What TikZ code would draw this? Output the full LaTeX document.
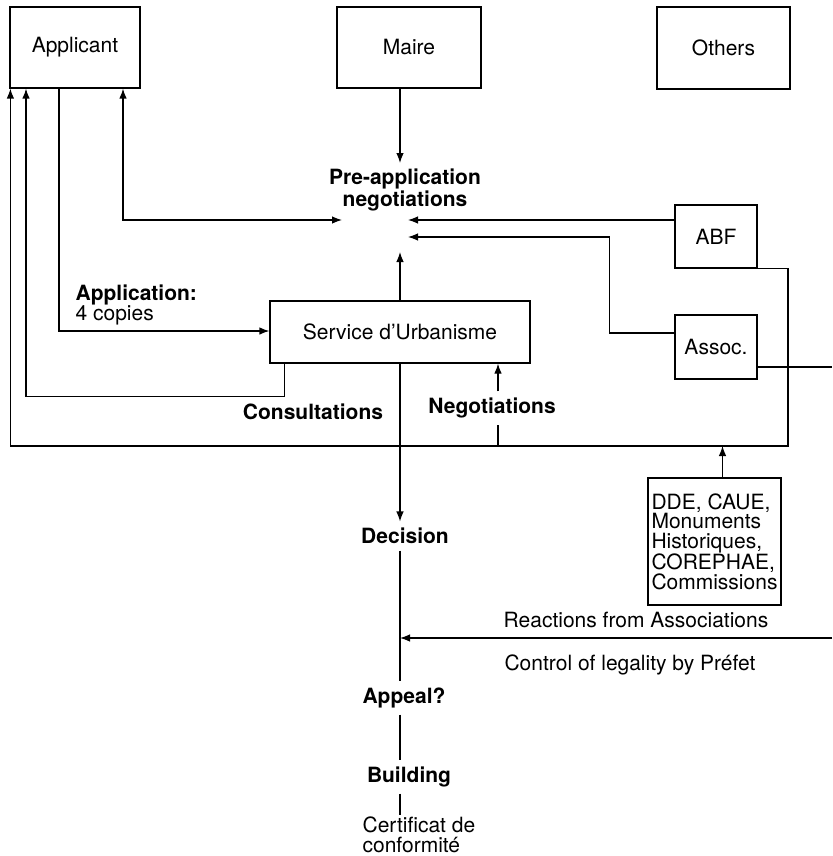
\documentclass[tikz,border=0pt]{standalone}
\usepackage{fontspec}
\setmainfont{TeX Gyre Heros}
\usetikzlibrary{arrows.meta}

\begin{document}
\begin{tikzpicture}[x=1pt, y=-1pt, line width=1.2pt,
    >={Latex[length=10pt,width=7.5pt]},
    every node/.style={font=\fontsize{21}{19.5}\selectfont},
    box/.style={draw, rectangle, inner sep=2pt},
    stage/.style={font=\fontsize{21}{19.5}\selectfont\bfseries, inner sep=6pt}]
    \useasboundingbox (0,0) rectangle (832,856);

    % actors
    \node[box, minimum width=130pt, minimum height=81pt] (applicant) at (75,47.5) {Applicant};
    \node[box, minimum width=144pt, minimum height=81pt] (maire) at (409,47.5) {Maire};
    \node[box, minimum width=133pt, minimum height=82pt] (others) at (723.5,48) {Others};
    \node[box, minimum width=82pt, minimum height=63pt] (abf) at (716,236.5) {ABF};
    \node[box, minimum width=82pt, minimum height=64pt] (assoc) at (716,347) {Assoc.};
    \node[box, minimum width=260pt, minimum height=62pt] (service) at (400,332) {Service d'Urbanisme};
    \node[box, minimum width=133pt, minimum height=127pt, align=left] (dde) at (714.5,541.5)
        {DDE, CAUE,\\Monuments\\Historiques,\\COREPHAE,\\Commissions};

    % stages and labels
    \node[stage, align=center, inner sep=2pt] (preapp) at (405,190) {Pre-application\\negotiations};
    \node[align=left, anchor=west, inner sep=2pt] (application) at (73,305) {{\bfseries Application:}\\4 copies};
    \node[stage] (consult) at (313,412) {Consultations};
    \node[stage] (negot) at (492,408) {Negotiations};
    \node[stage] (decision) at (405,536) {Decision};
    \node (reactions) at (636,620) {Reactions from Associations};
    \node (control) at (630,665) {Control of legality by Préfet};
    \node[stage] (appeal) at (404,698) {Appeal?};
    \node[stage] (building) at (409,777) {Building};
    \node[align=left, anchor=west, inner sep=2pt] (certif) at (360,835) {Certificat de\\conformité};

    \coordinate (pa-n) at (400,163);
    \coordinate (pa-w) at (342,220);
    \coordinate (pa-e) at (408,220);
    \coordinate (pa-e2) at (408,237);
    \coordinate (pa-s) at (400,252);
    \coordinate (loop) at (788,446);
    \coordinate (ng) at (498,446);
    \coordinate (assoc-out) at (832,367);
    \coordinate (assoc-in) at (832,638);

    % connectors
    \draw[->] (maire.south -| pa-n) -- (pa-n);
    \draw[<->] ([xshift=48pt]applicant.south) |- (pa-w);
    \draw[->] ([xshift=-16pt]applicant.south) |- ([yshift=1pt]service.west);
    \draw[->] ([xshift=15pt]service.south west) -- ++(0,33) -| ([xshift=-49pt]applicant.south);
    \draw[->] (abf.south east) -| (loop) -| ([xshift=1pt]applicant.south west);
    \draw[->] (abf.west |- pa-e) -- (pa-e);
    \draw[->] ([yshift=14pt]assoc.west) -- ++(-65,0) |- (pa-e2);
    \draw ([yshift=-20pt]assoc.east) -- (assoc-out);
    \draw[->] (service.north) -- (pa-s);
    \draw[->] ([xshift=8pt]dde.north) -- ([xshift=8pt]dde.north |- loop);
    \draw (ng) -- (ng |- negot.south);
    \draw[->] (ng |- negot.north) -- (ng |- service.south);
    \draw[->] (service.south) -- (service.south |- decision.north);
    \draw (service.south |- decision.south) -- (service.south |- appeal.north);
    \draw[->] (assoc-in) -- (assoc-in -| service.south);
    \draw (service.south |- appeal.south) -- (service.south |- building.north);
    \draw (service.south |- building.south) -- (service.south |- certif.north);
\end{tikzpicture}
\end{document}
